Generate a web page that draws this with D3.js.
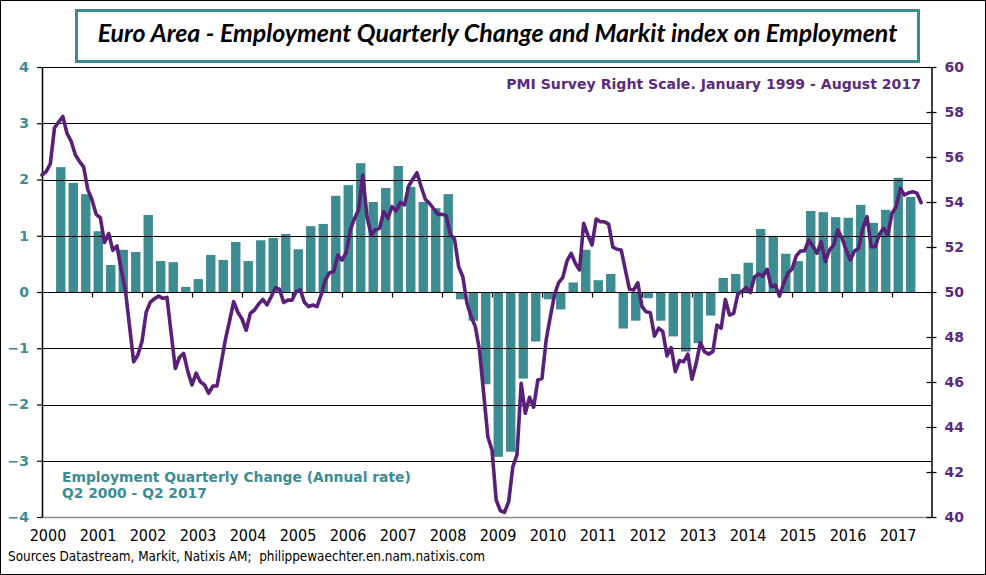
<!DOCTYPE html>
<html><head><meta charset="utf-8">
<script src="https://cdn.jsdelivr.net/npm/d3@7"></script>
<style>html,body{margin:0;padding:0;background:#fff;} svg{display:block;}</style>
</head><body><svg id="chart" width="986" height="575"></svg>
<script>
// ---------- data ----------
const yearTicks = [2000,2001,2002,2003,2004,2005,2006,2007,2008,2009,2010,2011,2012,2013,2014,2015,2016,2017];
const yearLabels = ["2000","2001","2002","2003","2004","2005","2006","2007","2008","2009","2010","2011","2012","2013","2014","2015","2016","2017"];
const leftTicks = [-4,-3,-2,-1,0,1,2,3,4];
const rightTicks = [40,42,44,46,48,50,52,54,56,58,60];

// Employment quarterly change (annual rate), Q2 2000 - Q2 2017
const empStart = [2000, 2];
const empChange = [
  2.22, 1.94, 1.74,
  1.08, 0.48, 0.75, 0.71,
  1.37, 0.55, 0.53, 0.09,
  0.23, 0.66, 0.57, 0.89,
  0.55, 0.92, 0.96, 1.03,
  0.76, 1.17, 1.21, 1.71,
  1.90, 2.29, 1.60, 1.85,
  2.24, 1.87, 1.60, 1.49,
  1.74, -0.13, -0.51, -1.64,
  -2.93, -2.84, -1.54, -0.88,
  -0.13, -0.31, 0.17, 0.75,
  0.21, 0.32, -0.65, -0.51,
  -0.11, -0.51, -0.79, -1.06,
  -0.91, -0.42, 0.25, 0.32,
  0.52, 1.12, 1.00, 0.68,
  0.55, 1.44, 1.42, 1.33,
  1.32, 1.55, 1.23, 1.46,
  2.03, 1.69
];

// Markit PMI employment, monthly, Jan 2000 - Aug 2017 (right scale)
const pmiStart = [2000, 1];
const pmi = [
  55.2, 55.35, 55.7, 57.3, 57.55, 57.8, 57.05, 56.7, 56.1, 55.8, 55.55, 54.55,
  54.1, 53.45, 53.3, 52.2, 52.6, 51.85, 52.05, 51.0, 50.1, 48.5, 46.9, 47.2,
  47.8, 49.1, 49.55, 49.7, 49.82, 49.72, 49.76, 48.16, 46.6, 47.1, 47.27, 46.46,
  45.87, 46.39, 46.01, 45.87, 45.5, 45.82, 45.82, 46.83, 47.87, 48.7, 49.57, 49.1,
  48.8, 48.3, 49.05, 49.2, 49.47, 49.67, 49.42, 49.79, 50.19, 50.12, 49.53, 49.64,
  49.64, 50.01, 50.09, 49.53, 49.35, 49.42, 49.35, 49.87, 50.53, 50.86, 50.9, 51.64,
  51.42, 51.75, 52.76, 53.27, 53.67, 55.2, 53.35, 52.53, 52.76, 52.83, 53.57, 53.27,
  53.79, 53.6, 53.97, 53.87, 54.71, 55.01, 55.3, 54.68, 54.12, 53.94, 53.7, 53.45,
  53.45, 53.4, 52.55, 52.36, 51.12, 50.68, 49.5, 48.9, 48.46, 47.42, 45.5, 43.57,
  42.98, 40.76, 40.28, 40.21, 40.68, 42.24, 42.76, 45.94, 44.61, 45.32, 44.88, 46.09,
  46.16, 47.87, 48.9, 49.87, 50.42, 50.65, 51.38, 51.72, 51.28, 50.98, 53.05, 52.53,
  52.09, 53.24, 53.12, 53.12, 53.02, 51.99, 51.9, 51.87, 50.98, 50.12, 50.09, 50.41,
  49.35, 49.12, 49.08, 48.04, 48.39, 48.24, 47.16, 47.53, 46.46, 46.95, 46.9, 47.24,
  46.12, 46.83, 47.75, 47.35, 47.24, 47.35, 48.53, 48.39, 49.67, 48.98, 49.05, 49.91,
  50.03, 50.2, 49.97, 50.67, 50.8, 50.71, 51.01, 50.24, 50.31, 49.82, 50.39, 50.83,
  51.01, 51.6, 51.82, 51.82, 52.31, 52.04, 51.72, 52.24, 51.35, 51.87, 52.09, 52.76,
  52.39, 51.87, 51.42, 51.82, 51.94, 52.83, 53.35, 52.01, 52.01, 52.58, 52.83, 52.53,
  53.5, 53.79, 54.61, 54.31, 54.41, 54.46, 54.39, 53.97
];

const titleText = "Euro Area - Employment Quarterly Change and Markit index on Employment";
const pmiNote = "PMI Survey Right Scale. January 1999 - August 2017";
const empNote1 = "Employment Quarterly Change (Annual rate)";
const empNote2 = "Q2 2000 - Q2 2017";
const sourceText = "Sources Datastream, Markit, Natixis AM;  philippewaechter.en.nam.natixis.com";

// ---------- styles ----------
const TEAL = "#3d8c92";
const PURPLE = "#5a2079";
const PURPLE_TXT = "#5b2a7e";

const svg = d3.select("#chart");
const M = {left: 42, right: 931.5, top: 67, bottom: 517};

const x = d3.scaleLinear().domain([2000, 2017.79]).range([M.left, M.right]);
const yL = d3.scaleLinear().domain([-4, 4]).range([M.bottom, M.top]);
const yR = d3.scaleLinear().domain([40, 60]).range([M.bottom, M.top]);

svg.append("rect").attr("x", 0.5).attr("y", 0.5).attr("width", 985).attr("height", 574)
  .attr("fill", "#fff").attr("stroke", "#000").attr("stroke-width", 1);

function fit(sel, target) {
  const w = sel.node().getComputedTextLength();
  const fs = parseFloat(sel.attr("font-size"));
  sel.attr("font-size", (fs * target / w).toFixed(2));
}

// bars
const barData = empChange.map((v, i) => ({
  t: empStart[0] + (empStart[1] - 1 + i) / 4 + 0.125, v
}));
const barW = (x(2000.25) - x(2000)) * 0.75;
svg.append("g").selectAll("rect").data(barData).join("rect")
  .attr("x", d => x(d.t) - barW / 2)
  .attr("y", d => yL(Math.max(0, d.v)))
  .attr("width", barW)
  .attr("height", d => Math.abs(yL(d.v) - yL(0)))
  .attr("fill", TEAL);

// gridlines
svg.append("g").selectAll("line").data(leftTicks.filter(t => t > -4)).join("line")
  .attr("x1", M.left).attr("x2", M.right)
  .attr("y1", d => Math.round(yL(d)) + 0.5).attr("y2", d => Math.round(yL(d)) + 0.5)
  .attr("stroke", "#000").attr("stroke-width", 1.2);

// bottom axis line (gray)
svg.append("line").attr("x1", M.left).attr("x2", M.right)
  .attr("y1", M.bottom + 0.5).attr("y2", M.bottom + 0.5)
  .attr("stroke", "#8a8a8a").attr("stroke-width", 1.5);

// x ticks on zero line
const xAx = svg.append("g").attr("transform", `translate(0,${Math.round(yL(0)) + 0.5})`)
  .call(d3.axisBottom(x).tickValues(yearTicks.slice(1)).tickSize(5).tickFormat(""));
xAx.select(".domain").remove();
xAx.selectAll("line").attr("stroke", "#000").attr("stroke-width", 1.2);

// year labels
svg.append("g").selectAll("text").data(yearTicks).join("text")
  .attr("x", d => x(d + 0.12)).attr("y", 541)
  .attr("text-anchor", "middle")
  .attr("font-family", "'DejaVu Sans Condensed', 'DejaVu Sans', sans-serif")
  .attr("font-stretch", "condensed")
  .attr("font-size", 16).attr("fill", "#000")
  .text((d, i) => yearLabels[i]);

// left axis
const lAx = svg.append("g").attr("transform", `translate(${M.left},0)`)
  .call(d3.axisLeft(yL).tickValues(leftTicks).tickSize(5).tickSizeOuter(0).tickPadding(8).tickFormat(d3.format("d")));
lAx.select(".domain").attr("stroke", "#000").attr("stroke-width", 1.5);
lAx.selectAll(".tick line").attr("stroke", "#000").attr("stroke-width", 1.2);
lAx.selectAll("text").attr("font-family", "'DejaVu Sans', Verdana, sans-serif")
  .attr("font-weight", "bold").attr("font-size", 14).attr("fill", TEAL);

// right axis
const rAx = svg.append("g").attr("transform", `translate(${M.right},0)`)
  .call(d3.axisRight(yR).tickValues(rightTicks).tickSize(5).tickSizeOuter(0).tickPadding(8).tickFormat(d3.format("d")));
rAx.select(".domain").attr("stroke", "#000").attr("stroke-width", 1.5);
rAx.selectAll(".tick line").attr("x1", -5).attr("stroke", "#000").attr("stroke-width", 1.2);
rAx.selectAll("text").attr("font-family", "'DejaVu Sans', Verdana, sans-serif")
  .attr("font-weight", "bold").attr("font-size", 14).attr("fill", PURPLE_TXT);

// PMI line
const lineData = pmi.map((v, i) => ({t: pmiStart[0] + (pmiStart[1] - 1 + i) / 12, v}));
svg.append("path").datum(lineData)
  .attr("d", d3.line().x(d => x(d.t)).y(d => yR(d.v)))
  .attr("fill", "none").attr("stroke", PURPLE).attr("stroke-width", 3.6)
  .attr("stroke-linejoin", "round").attr("stroke-linecap", "round");

// annotations
const t1 = svg.append("text").attr("x", 921).attr("y", 89).attr("text-anchor", "end")
  .attr("font-family", "'DejaVu Sans', Verdana, sans-serif").attr("font-weight", "bold")
  .attr("font-size", 13).attr("fill", PURPLE_TXT).text(pmiNote);
fit(t1, 415);

const t2 = svg.append("text").attr("x", 62).attr("y", 481.5)
  .attr("font-family", "'DejaVu Sans', Verdana, sans-serif").attr("font-weight", "bold")
  .attr("font-size", 13.5).attr("fill", TEAL).text(empNote1);
fit(t2, 349);
const t3 = svg.append("text").attr("x", 62).attr("y", 498)
  .attr("font-family", "'DejaVu Sans', Verdana, sans-serif").attr("font-weight", "bold")
  .attr("font-size", t2.attr("font-size")).attr("fill", TEAL).text(empNote2);

const t4 = svg.append("text").attr("x", 8).attr("y", 561)
  .attr("font-family", "'DejaVu Sans Condensed', 'DejaVu Sans', sans-serif")
  .attr("font-stretch", "condensed")
  .attr("font-size", 13).attr("fill", "#000").attr("xml:space", "preserve").style("white-space", "pre").text(sourceText);
fit(t4, 477);

// title box
svg.append("rect").attr("x", 76.5).attr("y", 10.5).attr("width", 842).attr("height", 51)
  .attr("fill", "#fff").attr("stroke", TEAL).attr("stroke-width", 3);
const tt = svg.append("text").attr("x", 497.5).attr("y", 42).attr("text-anchor", "middle")
  .attr("font-family", "Lato, 'Open Sans', sans-serif").attr("font-weight", "bold").attr("font-style", "italic")
  .attr("font-size", 21).attr("fill", "#000").text(titleText);
fit(tt, 800);
</script></body></html>
